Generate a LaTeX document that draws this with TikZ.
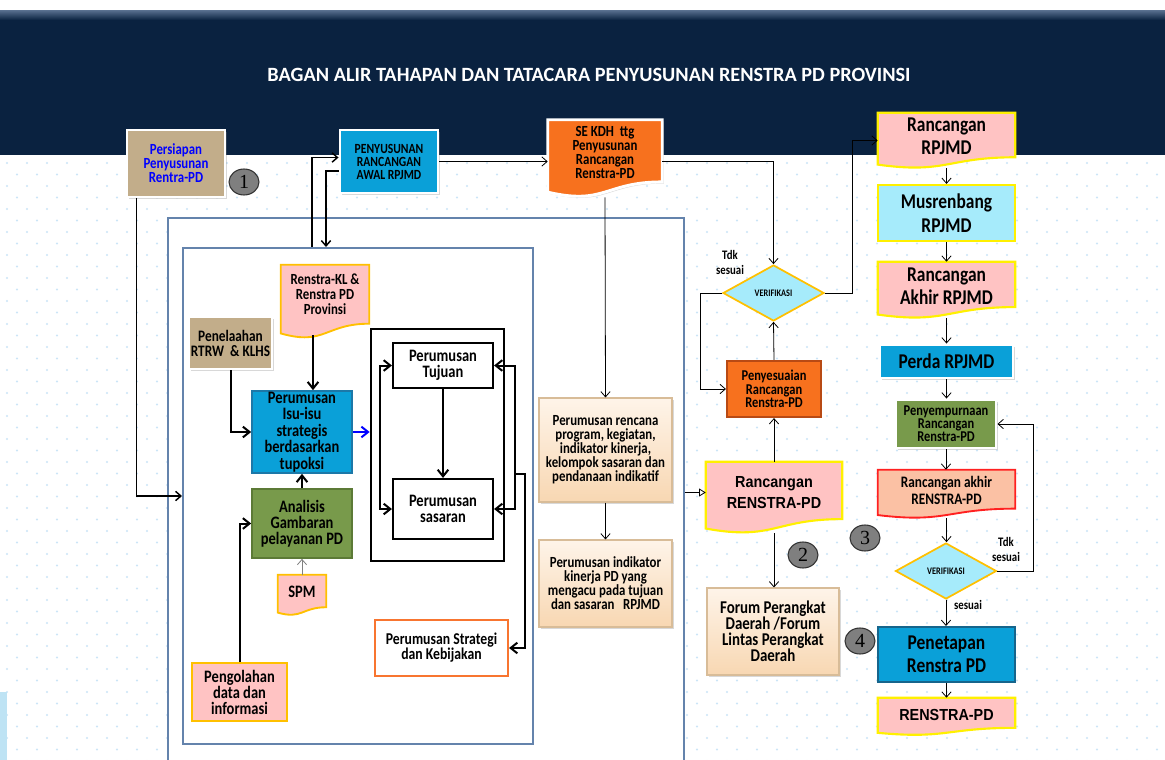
\documentclass[tikz,border=0pt]{standalone}
\usepackage{fontspec}
\setmainfont{Carlito}[FakeStretch=0.83]
\newfontfamily\titlef{Carlito}
\newfontfamily\arialc{Liberation Sans}[FakeStretch=0.9]
\newfontfamily\digitf{Liberation Serif}
\usetikzlibrary{arrows.meta,shapes.geometric,shadows,calc}
\pgfdeclarelayer{bg}\pgfdeclarelayer{shp}\pgfsetlayers{bg,shp,main}
\definecolor{navy}{HTML}{0A2240}
\definecolor{bandtop}{HTML}{5A7190}
\definecolor{dotc}{HTML}{CBE5F7}
\definecolor{boxb}{HTML}{6483AC}
\definecolor{tanb}{HTML}{C2AD8A}
\definecolor{bluebox}{HTML}{0AA0D8}
\definecolor{blueD}{HTML}{1C78A8}
\definecolor{tealD}{HTML}{16658C}
\definecolor{orangeb}{HTML}{F7711E}
\definecolor{orangeD}{HTML}{B84A14}
\definecolor{orangeL}{HTML}{F87530}
\definecolor{pinkb}{HTML}{FFC3C3}
\definecolor{yelb}{HTML}{FFF000}
\definecolor{goldb}{HTML}{FFC000}
\definecolor{cyanl}{HTML}{A6EBFB}
\definecolor{oliveb}{HTML}{789A4B}
\definecolor{oliveD}{HTML}{5C7A36}
\definecolor{salmonb}{HTML}{FBC1A4}
\definecolor{redb}{HTML}{FF2020}
\definecolor{peachT}{HTML}{FEF4E9}
\definecolor{peachB}{HTML}{F8D7B2}
\definecolor{peachD}{HTML}{D8BC98}
\definecolor{grayc}{HTML}{7F7F7F}
\definecolor{lblue}{HTML}{BEE3F4}
\newcommand\fz[2]{\fontsize{#1pt}{#2pt}\selectfont}
\newcommand\docbg[2]{%
  \begin{pgfonlayer}{shp}
  \path[#2] let \p1=(#1.north west), \p2=(#1.south east) in
    (\x1,\y1) -- (\x2,\y1) -- (\x2,{\y2+0.198*(\y1-\y2)})
    .. controls ({0.5*(\x1+\x2)},{\y2+0.198*(\y1-\y2)}) and ({0.5*(\x1+\x2)},{\y2-0.107*(\y1-\y2)})
    .. (\x1,{\y2+0.066*(\y1-\y2)}) -- cycle;
  \end{pgfonlayer}}
\tikzset{
  bx/.style 2 args={minimum width=#1*0.75pt, minimum height=#2*0.75pt, inner sep=0pt, align=center},
  shad/.style={drop shadow={shadow xshift=1.2pt,shadow yshift=-1.2pt,opacity=0.3}},
  framed/.style={draw=white, line width=2.2pt, shad},
  peach/.style={top color=peachT, bottom color=peachB, draw=peachD, line width=0.8pt, shad},
  circ/.style={ellipse, draw=black!80, line width=0.8pt, fill=grayc, minimum width=30*0.75pt, minimum height=26*0.75pt, inner sep=0pt, font=\digitf\fz{15}{15}},
  dia/.style={diamond, draw=goldb, line width=1.3pt, fill=cyanl, minimum width=101*0.75pt, minimum height=56*0.75pt, inner sep=0pt, aspect=2, font=\bfseries\fz{7.5}{7.5}},
  ln/.style={draw=black, line width=0.6pt, -{Straight Barb[length=4pt,width=7pt]}},
  md/.style={draw=black, line width=1.1pt, -{Straight Barb[length=4pt,width=7pt]}},
  tk/.style={draw=black, line width=1.5pt, -{Straight Barb[length=5pt,width=8pt]}},
  lbl/.style={font=\bfseries\fz{9.75}{11.25}, align=center, inner sep=0pt},
}
\begin{document}
\begin{tikzpicture}[x=0.75pt,y=-0.75pt]
\useasboundingbox (0,0) rectangle (1165,760);
\begin{pgfonlayer}{bg}
  \fill[white] (0,0) rectangle (1165,760);
  \foreach \j in {0,...,52}{
    \pgfmathsetmacro\yy{163+11.5*\j}
    \pgfmathsetmacro\off{mod(\j,2)*10}
    \foreach \i in {0,...,58}{\fill[dotc] (7+\off+20*\i,\yy) circle (0.85pt);}
  }
  \fill[navy] (0,10) rectangle (1165,155);
  \shade[top color=bandtop, bottom color=navy] (0,10) rectangle (1165,20);
  \fill[lblue] (0,692) rectangle (7,760);
  \node[draw=boxb, line width=1.5pt, fill=white, minimum width=516*0.75pt, minimum height=552*0.75pt, inner sep=0pt] (outer) at (426,494) {};
  \node[draw=boxb, line width=1.5pt, fill=white, minimum width=350*0.75pt, minimum height=496*0.75pt, inner sep=0pt] (inner) at (358,496) {};
\end{pgfonlayer}

% title
\node[text=white, font=\titlef\bfseries\fz{15.2}{15.2}] (title) at (589,75) {BAGAN ALIR TAHAPAN DAN TATACARA PENYUSUNAN RENSTRA PD PROVINSI};

% top row
\node[bx={98}{67}, fill=tanb, framed, text=blue, font=\bfseries\fz{11.6}{10.5}] (persiapan) at (176,163.5) {Persiapan\\Penyusunan\\Rentra-PD};
\node[circ] (c1) at (244,182) {1};
\node[bx={98}{63}, fill=bluebox, framed, font=\bfseries\fz{10.5}{9.75}] (penyusunan) at (389,161.5) {PENYUSUNAN\\RANCANGAN\\AWAL RPJMD};
\node[bx={114}{77}] (sekdh) at (605,158.5) {};
\docbg{sekdh}{fill=orangeb, draw=white, line width=2.2pt, shad}
\node[lbl, font=\bfseries\fz{11.6}{10.5}] (sekdhT) at ($(sekdh)+(0,-6)$) {SE KDH~ ttg\\Penyusunan\\Rancangan\\Renstra-PD};

% right column
\node[bx={137}{55}] (rrpjmd) at (946.5,140.5) {};
\docbg{rrpjmd}{fill=pinkb, draw=yelb, line width=1.6pt}
\node[lbl, font=\bfseries\fz{15.75}{17.6}] (rrpjmdT) at ($(rrpjmd)+(0,-4)$) {Rancangan\\RPJMD};
\node[bx={137}{56}, fill=cyanl, draw=yelb, line width=1.6pt, font=\bfseries\fz{15.75}{17.6}] (musren) at (946.5,213) {Musrenbang\\RPJMD};
\node[bx={137}{56}] (rarpjmd) at (946.5,290) {};
\docbg{rarpjmd}{fill=pinkb, draw=yelb, line width=1.6pt}
\node[lbl, font=\bfseries\fz{15.75}{17.6}] (rarpjmdT) at ($(rarpjmd)+(0,-3.5)$) {Rancangan\\Akhir RPJMD};
\node[bx={133}{33}, fill=bluebox, framed, font=\bfseries\fz{15.75}{15.75}] (perda) at (946.5,361.5) {Perda RPJMD};
\node[bx={100}{48}, fill=oliveb, framed, font=\bfseries\fz{11.25}{9.75}] (penyemp) at (946,424) {Penyempurnaan\\Rancangan\\Renstra-PD};
\node[bx={137}{48}] (rakhir) at (946.5,494) {};
\docbg{rakhir}{fill=salmonb, draw=redb, line width=1.4pt}
\node[lbl, font=\bfseries\fz{12}{12.75}] (rakhirT) at ($(rakhir)+(0,-4)$) {Rancangan akhir\\RENSTRA-PD};
\node[circ] (c3) at (865,538) {3};
\node[dia] (ver2) at (946,571) {VERIFIKASI};
\node[lbl] (tdk2) at (1006,549) {Tdk\\sesuai};
\node[lbl] (ses2) at (968,605) {sesuai};
\node[circ] (c4) at (860,641) {4};
\node[bx={137}{55}, fill=bluebox, draw=tealD, line width=1.5pt, font=\bfseries\fz{15.75}{17.25}] (penetapan) at (946.5,654.5) {Penetapan\\Renstra PD};
\node[bx={137}{37}] (renstrapd) at (946.5,716.5) {};
\docbg{renstrapd}{fill=pinkb, draw=yelb, line width=1.6pt}
\node[lbl, font=\arialc\bfseries\fz{12}{12}] (renstrapdT) at ($(renstrapd)+(0,-2)$) {RENSTRA-PD};

% middle right column
\node[dia] (ver1) at (773.5,293) {VERIFIKASI};
\node[lbl] (tdk1) at (730,262) {Tdk\\sesuai};
\node[bx={94}{56}, fill=orangeb, draw=orangeD, line width=1.6pt, font=\bfseries\fz{11.25}{10}] (penyes) at (774,389) {Penyesuaian\\Rancangan\\Renstra-PD};
\node[bx={136}{71}] (rrenstra) at (774,497.5) {};
\docbg{rrenstra}{fill=pinkb, draw=yelb, line width=1.6pt}
\node[lbl, font=\arialc\bfseries\fz{12}{15.75}] (rrenstraT) at ($(rrenstra)+(0,-5)$) {Rancangan\\RENSTRA-PD};
\node[circ] (c2) at (803,555) {2};
\node[bx={132}{87}, peach, font=\bfseries\fz{13.5}{12}] (forum) at (773,631.5) {Forum Perangkat\\Daerah /Forum\\Lintas Perangkat\\Daerah};

% middle column
\node[bx={133}{104}, peach, font=\bfseries\fz{11.6}{10.5}] (rencana) at (605.5,450) {Perumusan rencana\\program, kegiatan,\\indikator kinerja,\\kelompok sasaran dan\\pendanaan indikatif};
\node[bx={133}{87}, peach, font=\bfseries\fz{11.6}{10.5}] (indikator) at (605.5,583.5) {Perumusan indikator\\kinerja PD yang\\mengacu pada tujuan\\dan sasaran~~ RPJMD};

% inner box
\node[bx={88}{73}] (renstrakl) at (325,301.5) {};
\docbg{renstrakl}{fill=pinkb, draw=goldb, line width=1.4pt}
\node[lbl, font=\bfseries\fz{11.6}{11.25}] (renstraklT) at ($(renstrakl)+(0,-7.5)$) {Renstra-KL \&\\Renstra PD\\Provinsi};
\node[bx={83}{52}, fill=tanb, framed, font=\bfseries\fz{12}{11.25}] (penelaahan) at (230.5,343) {Penelaahan\\RTRW~ \& KLHS};
\node[bx={100}{82}, fill=bluebox, draw=blueD, line width=1.3pt, font=\bfseries\fz{13.1}{12.4}] (isu) at (302,432) {Perumusan\\Isu-isu\\strategis\\berdasarkan\\tupoksi};
\node[bx={100}{69}, fill=oliveb, draw=oliveD, line width=1.3pt, font=\bfseries\fz{13.1}{12}] (analisis) at (302,523.5) {Analisis\\Gambaran\\pelayanan PD};
\node[bx={48}{40}] (spm) at (302,595) {};
\docbg{spm}{fill=pinkb, draw=goldb, line width=1.4pt}
\node[lbl, font=\bfseries\fz{13.1}{13.1}] (spmT) at ($(spm)+(0,-3)$) {SPM};
\node[bx={95}{58}, fill=pinkb, draw=goldb, line width=1.4pt, font=\bfseries\fz{13.1}{12}] (pengolahan) at (239.5,692) {Pengolahan\\data dan\\informasi};
\node[bx={133}{232}, draw=black, line width=2pt] (blackbox) at (437.5,445) {};
\node[bx={100}{45}, fill=white, draw=black, line width=1.6pt, font=\bfseries\fz{13.1}{12}] (tujuan) at (443,365.5) {Perumusan\\Tujuan};
\node[bx={100}{60}, fill=white, draw=black, line width=1.6pt, font=\bfseries\fz{13.1}{12}] (sasaran) at (443,509) {Perumusan\\sasaran};
\node[bx={133}{56}, fill=white, draw=orangeL, line width=1.6pt, font=\bfseries\fz{12.4}{11.25}] (strategi) at (441.5,648) {Perumusan Strategi\\dan Kebijakan};

% ---- connectors: inner box
\coordinate (rk) at ($(renstrakl.south)+(-12,-3)$);
\draw[tk] (rk) -- (rk |- isu.north);
\draw[tk] (penelaahan.south) |- (isu.west);
\draw[tk] (analisis) -- (isu);
\draw[draw=gray, line width=0.6pt, -{Straight Barb[length=4pt,width=7pt]}] (spm.north) -- (analisis.south);
\draw[tk] (pengolahan.north) |- (analisis.west);
\draw[tk, draw=blue] (isu.east) -- (isu.east -| blackbox.west);
\draw[tk] (tujuan) -- (sasaran);
\draw[tk, {Straight Barb[length=5pt,width=8pt]}-{Straight Barb[length=5pt,width=8pt]}] (tujuan.west) -- ++(-12,0) |- (sasaran.west);
\draw[tk, {Straight Barb[length=5pt,width=8pt]}-{Straight Barb[length=5pt,width=8pt]}] (tujuan.east) -- ++(21,0) |- (sasaran.east);
\coordinate (rbj) at ($(tujuan.east)+(21,108)$);
\draw[tk] (rbj) -- ++(10,0) |- (strategi.east);

% ---- connectors: left / top
\draw[md] ($(persiapan.south west)+(11,0)$) |- (inner.west);
\draw[md] ($(inner.north west)+(130,0)$) |- ($(penyusunan.west)+(0,-4)$);
\draw[md] ($(penyusunan.west)+(0,9.5)$) -| ($(inner.north west)+(144,0)$);
\draw[ln] (penyusunan.east) -- (penyusunan.east -| sekdh.west);
\draw[ln] (penyusunan.east -| sekdh.east) -| (ver1.north);
\draw[ln] (sekdh.south) -- (rencana.north);
\draw[ln] (rencana) -- (indikator);

% ---- connectors: middle right
\coordinate (oe) at ($(outer.east |- rrenstra.west)+(0,-5)$);
\draw[draw=black, line width=0.6pt, -{Triangle[open,length=5pt,width=6pt]}] (oe) -- (oe -| rrenstra.west);
\draw[ln] (rrenstra.north) -- (penyes.south);
\draw[ln] (penyes.north) -- (ver1.south);
\draw[ln] (ver1.west) -- ++(-22,0) |- (penyes.west);
\draw[ln] (ver1.east) -- ++(28,0) |- (rrpjmd.west);
\draw[ln] (rrenstra.south) -- (rrenstra.south |- forum.north);

% ---- connectors: right column
\draw[ln] (rrpjmd.south) -- (rrpjmd.south |- musren.north);
\draw[ln] (musren.south) -- (musren.south |- rarpjmd.north);
\draw[ln] (rarpjmd.south) -- (rarpjmd.south |- perda.north);
\draw[ln] (perda.south) -- (perda.south |- penyemp.north);
\draw[ln] (penyemp.south) -- (penyemp.south |- rakhir.north);
\draw[ln] (rakhir.south) -- (rakhir.south |- ver2.north);
\draw[ln] (ver2.south) -- (ver2.south |- penetapan.north);
\draw[ln] (penetapan.south) -- (penetapan.south |- renstrapd.north);
\draw[ln] (ver2.east) -- ++(36,0) |- (penyemp.east);
\end{tikzpicture}
\end{document}
